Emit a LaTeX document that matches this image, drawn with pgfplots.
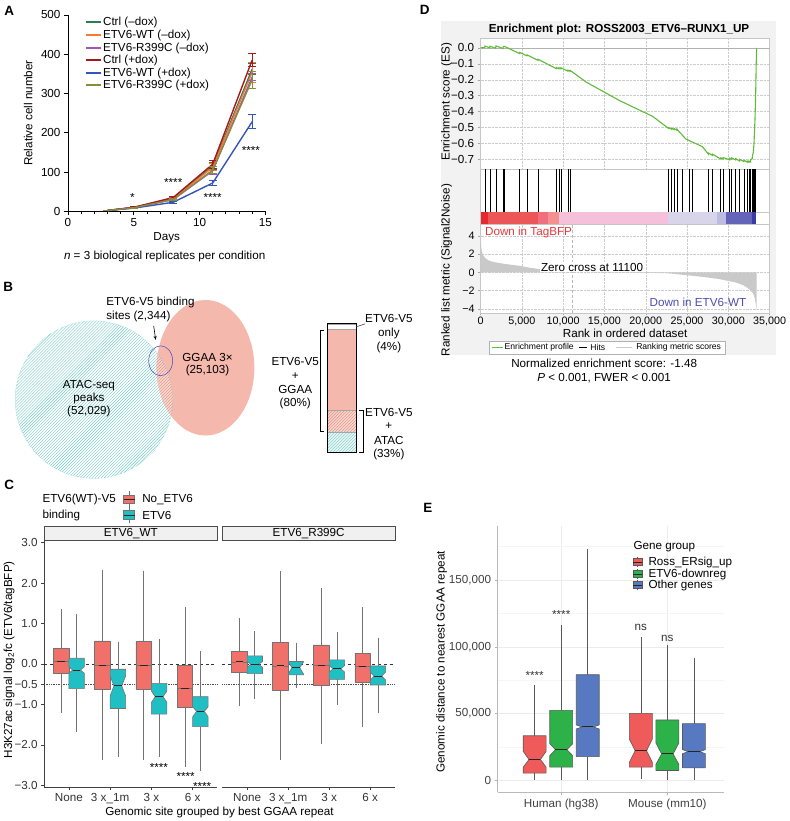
\documentclass[border=0pt]{standalone}
\usepackage{fontspec}
\setmainfont{Liberation Sans}
\usepackage{pgfplots}
\pgfplotsset{compat=1.18}
\usetikzlibrary{patterns,arrows.meta}

\definecolor{cgreen}{RGB}{42,125,79}
\definecolor{corange}{RGB}{244,123,53}
\definecolor{cpurple}{RGB}{160,87,181}
\definecolor{cdred}{RGB}{163,25,30}
\definecolor{cblue}{RGB}{51,85,184}
\definecolor{colive}{RGB}{138,139,60}
\definecolor{salmon}{RGB}{244,184,172}
\definecolor{salmonL}{RGB}{248,214,206}
\definecolor{salmonD}{RGB}{226,140,124}
\definecolor{tealH}{RGB}{120,205,200}
\definecolor{tealL}{RGB}{232,246,245}
\definecolor{cred}{RGB}{242,112,106}
\definecolor{cteal}{RGB}{31,191,196}
\definecolor{gsgreen}{RGB}{96,187,58}
\definecolor{bd1}{RGB}{229,42,47}
\definecolor{bd2}{RGB}{237,86,86}
\definecolor{bd3}{RGB}{240,110,126}
\definecolor{bd4}{RGB}{244,144,144}
\definecolor{bd5}{RGB}{245,192,218}
\definecolor{bd6}{RGB}{216,212,234}
\definecolor{bd7}{RGB}{189,188,224}
\definecolor{bd8}{RGB}{100,100,184}
\definecolor{bd9}{RGB}{59,59,165}
\definecolor{tagred}{RGB}{232,56,61}
\definecolor{wtblue}{RGB}{78,78,176}
\definecolor{ered}{RGB}{239,90,90}
\definecolor{egreen}{RGB}{45,178,74}
\definecolor{eblue}{RGB}{86,121,193}

\newcommand\fs{\fontsize{11.7}{13.5}\selectfont}
\newcommand\fsD{\fontsize{10.8}{12.5}\selectfont}
\newcommand\fsS{\fontsize{8.6}{10}\selectfont}
\newcommand\fsL{\fontsize{13.5}{15}\selectfont\bfseries}

\pgfplotsset{every axis/.append style={font=\fs, tick label style={font=\fs}, label style={font=\fs}, scaled ticks=false}}

\def\bhw{0.1875}
\def\bxl{black!55}
% notched box: #1 x, #2 low whisker, #3 q1, #4 median, #5 q3, #6 high whisker, #7 notch low, #8 notch high, #9 colour
\newcommand{\nbox}[9]{%
  \pgfmathsetmacro\bxA{#1-\bhw}%
  \pgfmathsetmacro\bxB{#1+\bhw}%
  \pgfmathsetmacro\bxC{#1-0.5*\bhw}%
  \pgfmathsetmacro\bxD{#1+0.5*\bhw}%
  \edef\bxtmp{%
   \noexpand\addplot[forget plot,draw=\bxl,line width=0.6pt] coordinates {(#1,#6) (#1,#5)};%
   \noexpand\addplot[forget plot,draw=\bxl,line width=0.6pt] coordinates {(#1,#2) (#1,#3)};%
   \noexpand\addplot[forget plot,draw=\bxl,fill=#9,line width=0.6pt,line join=round] coordinates {(\bxA,#3) (\bxA,#7) (\bxC,#4) (\bxA,#8) (\bxA,#5) (\bxB,#5) (\bxB,#8) (\bxD,#4) (\bxB,#7) (\bxB,#3)} --cycle;%
   \noexpand\addplot[forget plot,draw=black!85,line width=1pt] coordinates {(\bxC,#4) (\bxD,#4)};%
  }\bxtmp}

\begin{document}
\begin{tikzpicture}
\begin{scope}[x=1pt,y=-1pt]
\path[use as bounding box] (0,0) rectangle (787,821);
% panel D background
\fill[gray!10] (441,21) rectangle (777,356);
% ---- Venn (B)
\fill[pattern=north east lines, pattern color=tealH] (93,401) circle (79pt);
\fill[salmon] (205,369) ellipse (49pt and 68pt);
\begin{scope}
\clip (93,401) circle (79pt);
\fill[salmonL] (205,369) ellipse (49pt and 68pt);
\fill[pattern=north east lines, pattern color=salmonD] (205,369) ellipse (49pt and 68pt);
\end{scope}
\draw[tealH, densely dotted, line width=0.5pt] (93,401) circle (79pt);
\draw[blue!45!gray, line width=0.5pt] (160,362) ellipse (12pt and 15pt);
\end{scope}

% ================= A =================
\begin{axis}[at={(67pt,-212pt)},anchor=south west,scale only axis,width=198pt,height=197pt,
 xmin=0,xmax=15,ymin=0,ymax=500,clip=false,
 axis x line*=bottom, axis y line*=left, axis line style={line width=0.8pt},
 xtick={0,5,10,15}, xticklabels={0,5,10,15},
 minor xtick={1,2,3,4,6,7,8,9,11,12,13,14},
 ytick={0,100,200,300,400,500}, yticklabels={0,100,200,300,400,500},
 tick align=outside, major tick length=4pt, minor tick length=2.5pt,
 every tick/.style={black,line width=0.7pt},
 xlabel={Days}, ylabel={Relative cell number},
 xlabel style={at={(axis description cs:0.5,-0.137)},anchor=center},
 ylabel style={at={(axis description cs:-0.202,0.5)},anchor=center},
 legend style={at={(axis description cs:0.085,0.995)},anchor=north west,draw=none,fill=none,font=\fs,row sep=0.3pt,inner sep=0pt,nodes={inner sep=1.2pt}},
 legend cell align=left,
 legend image code/.code={\draw[#1,line width=2pt] (0pt,0pt) -- (15pt,0pt);},
 eb/.style={error bars/.cd,y dir=both,y explicit,error bar style={line width=1pt},error mark options={rotate=90,line width=1pt,mark size=4pt}}
]
\addplot[cgreen,line width=1.4pt,eb] coordinates {(3,2) +- (0,0) (5,10) +- (0,1) (8,33) +- (0,3) (11,115) +- (0,8) (14,362) +- (0,14)};
\addlegendentry{Ctrl (–dox)}
\addplot[corange,line width=1.4pt,eb] coordinates {(3,2) +- (0,0) (5,10) +- (0,1) (8,32) +- (0,3) (11,112) +- (0,9) (14,354) +- (0,26)};
\addlegendentry{ETV6-WT (–dox)}
\addplot[cpurple,line width=1.4pt,eb] coordinates {(3,2) +- (0,0) (5,9) +- (0,1) (8,30) +- (0,3) (11,103) +- (0,10) (14,342) +- (0,8)};
\addlegendentry{ETV6-R399C (–dox)}
\addplot[cdred,line width=1.4pt,eb] coordinates {(3,2) +- (0,0) (5,10) +- (0,1) (8,35) +- (0,3) (11,120) +- (0,10) (14,385) +- (0,16)};
\addlegendentry{Ctrl (+dox)}
\addplot[cblue,line width=1.4pt,eb] coordinates {(3,2) +- (0,0) (5,8) +- (0,1) (8,23) +- (0,2) (11,72) +- (0,6) (14,228) +- (0,18)};
\addlegendentry{ETV6-WT (+dox)}
\addplot[colive,line width=1.4pt,eb] coordinates {(3,2) +- (0,0) (5,9) +- (0,1) (8,30) +- (0,3) (11,105) +- (0,8) (14,335) +- (0,22)};
\addlegendentry{ETV6-R399C (+dox)}
\node[font=\fs] at (axis cs:4.9,36) {*};
\node[font=\fs] at (axis cs:8.0,74) {****};
\node[font=\fs] at (axis cs:11.0,34) {****};
\node[font=\fs] at (axis cs:13.9,155) {****};
\end{axis}

% ================= B stacked bar =================
\begin{axis}[at={(327pt,-454pt)},anchor=south west,scale only axis,width=29pt,height=129pt,
 xmin=0.5,xmax=1.5,ymin=0,ymax=100,ybar stacked,bar width=29pt,
 xtick=\empty,ytick=\empty,axis line style={line width=1pt},axis on top,clip=false]
\addplot[fill=tealL,draw=gray!70,postaction={pattern=north east lines,pattern color=tealH}] coordinates {(1,16)};
\addplot[fill=salmonL,draw=gray!70,postaction={pattern=north east lines,pattern color=salmonD}] coordinates {(1,17)};
\addplot[fill=salmon,draw=gray!70] coordinates {(1,63)};
\addplot[fill=white,draw=gray!70] coordinates {(1,4)};
\node[font=\fs] at (axis cs:1,47.5) {63\%};
\node[font=\fs] at (axis cs:1,24.5) {17\%};
\node[font=\fs] at (axis cs:1,8) {16\%};
\end{axis}

% ================= C left =================
\begin{axis}[at={(43pt,-790pt)},anchor=south west,scale only axis,width=174pt,height=248pt,
 xmin=0.4,xmax=4.6,ymin=-3.05,ymax=3.06,clip=false,
 axis x line*=bottom, axis y line*=left, axis line style={black!75,line width=0.6pt},
 tick align=outside, major tick length=3pt, every tick/.style={black!75,line width=0.6pt},
 xtick={1,2,3,4}, xticklabels={None,3 x\_1m,3 x,6 x},
 ytick={-3,-2,-1,-0.5,0,1,2,3}, yticklabels={−3.0,−2.0,−1.0,−0.5,0.0,1.0,2.0,3.0},
 tick label style={text=black!80}]
\addplot[forget plot,dashed,black!80,line width=0.7pt] coordinates {(0.4,0) (4.6,0)};
\addplot[forget plot,densely dotted,black!70,line width=0.7pt] coordinates {(0.4,-0.5) (4.6,-0.5)};
\nbox{0.8125}{-1.20}{-0.24}{0.06}{0.39}{1.35}{0.06}{0.06}{cred}
\nbox{1.1875}{-1.69}{-0.61}{-0.15}{0.14}{1.24}{-0.23}{-0.07}{cteal}
\nbox{1.8125}{-2.37}{-0.62}{-0.03}{0.57}{2.33}{-0.03}{-0.03}{cred}
\nbox{2.1875}{-2.29}{-1.10}{-0.54}{-0.13}{0.54}{-0.79}{-0.30}{cteal}
\nbox{2.8125}{-2.37}{-0.62}{-0.03}{0.55}{2.31}{-0.03}{-0.03}{cred}
\nbox{3.1875}{-2.29}{-1.24}{-0.81}{-0.48}{0.62}{-0.95}{-0.67}{cteal}
\nbox{3.8125}{-2.55}{-1.06}{-0.61}{-0.03}{1.42}{-0.61}{-0.61}{cred}
\nbox{4.1875}{-2.64}{-1.55}{-1.17}{-0.81}{0.32}{-1.31}{-1.06}{cteal}
\node[font=\fs] at (axis cs:3.18,-2.55) {****};
\node[font=\fs] at (axis cs:3.83,-2.77) {****};
\node[font=\fs] at (axis cs:4.23,-3.02) {****};
\end{axis}

% ================= C right =================
\begin{axis}[at={(222pt,-790pt)},anchor=south west,scale only axis,width=173pt,height=248pt,
 xmin=0.4,xmax=4.6,ymin=-3.05,ymax=3.06,clip=false,
 axis x line*=bottom, axis y line=none, axis line style={black!75,line width=0.6pt},
 tick align=outside, major tick length=3pt, every tick/.style={black!75,line width=0.6pt},
 xtick={1,2,3,4}, xticklabels={None,3 x\_1m,3 x,6 x}, ytick=\empty,
 tick label style={text=black!80}]
\addplot[forget plot,dashed,black!80,line width=0.7pt] coordinates {(0.4,0) (4.6,0)};
\addplot[forget plot,densely dotted,black!70,line width=0.7pt] coordinates {(0.4,-0.5) (4.6,-0.5)};
\nbox{0.8125}{-1.03}{-0.21}{0.05}{0.32}{1.14}{0.05}{0.05}{cred}
\nbox{1.1875}{-0.87}{-0.24}{-0.01}{0.20}{0.81}{-0.08}{0.06}{cteal}
\nbox{1.8125}{-2.37}{-0.64}{-0.05}{0.54}{2.29}{-0.05}{-0.05}{cred}
\nbox{2.1875}{-0.60}{-0.27}{-0.09}{0.06}{0.53}{-0.25}{0.05}{cteal}
\nbox{2.8125}{-1.98}{-0.52}{-0.04}{0.47}{1.87}{-0.04}{-0.04}{cred}
\nbox{3.1875}{-1.02}{-0.38}{-0.12}{0.10}{0.79}{-0.20}{-0.04}{cteal}
\nbox{3.8125}{-1.57}{-0.46}{-0.07}{0.27}{1.40}{-0.07}{-0.07}{cred}
\nbox{4.1875}{-1.22}{-0.52}{-0.30}{-0.05}{0.65}{-0.40}{-0.20}{cteal}
\end{axis}

% ================= D: ES =================
\begin{axis}[at={(481pt,-170pt)},anchor=south west,scale only axis,width=290pt,height=132pt,
 xmin=0,xmax=35000,ymin=-0.7625,ymax=0.0625,
 axis background/.style={fill=white}, axis line style={gray!45},
 grid=major, major grid style={densely dotted,gray!40},
 xtick={0,5000,10000,15000,20000,25000,30000,35000}, xmajorticks=false,
 ytick={-0.7,-0.6,-0.5,-0.4,-0.3,-0.2,-0.1,0}, yticklabels={−0.7,−0.6,−0.5,−0.4,−0.3,−0.2,−0.1,0.0},
 ytick pos=left, tick align=outside, major tick length=3pt, every tick/.style={gray!70}]
\addplot[forget plot,gray!60,line width=0.6pt] coordinates {(0,0) (35000,0)};
\addplot[gsgreen,line width=1.1pt] coordinates {
(0,0) (500,0.002) (523,0.011) (1110,0.0) (1126,0.010) (1835,-0.002) (1850,0.012) (2720,-0.004) (2736,0.006) (2856,0.010)
(4730,-0.036) (4747,-0.029) (5615,-0.05) (5632,-0.044) (6945,-0.078) (6960,-0.072)
(9160,-0.13) (9172,-0.124) (9480,-0.131) (9494,-0.125) (9725,-0.131) (9736,-0.125) (10570,-0.146) (10580,-0.14) (10850,-0.147) (10860,-0.142)
(12800,-0.215) (16800,-0.33) (20840,-0.43) (22760,-0.505) (22770,-0.5) (23120,-0.51) (23130,-0.504) (23440,-0.513) (23450,-0.507) (23770,-0.516) (23780,-0.51)
(24860,-0.572) (26870,-0.62) (27590,-0.667) (27600,-0.66) (28070,-0.674) (28080,-0.667) (29080,-0.697) (29090,-0.69) (29360,-0.697) (29370,-0.688)
(30160,-0.703) (30170,-0.693) (30360,-0.698) (30370,-0.69) (30890,-0.703) (30900,-0.695) (31370,-0.71) (31380,-0.70) (31890,-0.713) (31900,-0.705)
(32290,-0.717) (32300,-0.71) (32500,-0.718) (32510,-0.71) (32700,-0.716) (32710,-0.70) (32900,-0.695) (32910,-0.68) (33030,-0.655) (33110,-0.6) (33230,-0.45) (33310,-0.3) (33380,-0.1) (33430,0.0)};
\end{axis}

% ================= D: hits =================
\begin{axis}[at={(481pt,-213pt)},anchor=south west,scale only axis,width=290pt,height=43pt,
 xmin=0,xmax=35000,ymin=0,ymax=1,xtick=\empty,ytick=\empty,
 axis background/.style={fill=white}, axis line style={gray!45}]
\addplot[ycomb,black,line width=0.7pt,mark=none] coordinates {
(523,1) (1126,1) (1850,1) (2736,1) (2856,1) (4747,1) (5632,1) (6960,1) (9172,1) (9494,1) (9736,1) (10580,1) (10860,1)
(22770,1) (23130,1) (23450,1) (23780,1) (24460,1) (25270,1) (25670,1) (27600,1) (28080,1) (29090,1) (29370,1) (30170,1) (30370,1)
(30900,1) (31380,1) (31900,1) (32300,1) (32510,1) (32710,1) (32910,1) (33030,1) (33110,1) (33230,1) (33310,1)};
\end{axis}

% ================= D: colour band =================
\begin{axis}[at={(481pt,-225pt)},anchor=south west,scale only axis,width=290pt,height=12pt,
 xmin=0,xmax=35000,ymin=0,ymax=1,xtick=\empty,ytick=\empty,
 axis background/.style={fill=white}, axis line style={gray!45}]
\addplot[fill=bd1,draw=none] coordinates {(0,0) (0,1) (925,1) (925,0)} --cycle;
\addplot[fill=bd2,draw=none] coordinates {(925,0) (925,1) (6960,1) (6960,0)} --cycle;
\addplot[fill=bd3,draw=none] coordinates {(6960,0) (6960,1) (8167,1) (8167,0)} --cycle;
\addplot[fill=bd4,draw=none] coordinates {(8167,0) (8167,1) (9494,1) (9494,0)} --cycle;
\addplot[fill=bd5,draw=none] coordinates {(9494,0) (9494,1) (22650,1) (22650,0)} --cycle;
\addplot[fill=bd6,draw=none] coordinates {(22650,0) (22650,1) (28680,1) (28680,0)} --cycle;
\addplot[fill=bd7,draw=none] coordinates {(28680,0) (28680,1) (29690,1) (29690,0)} --cycle;
\addplot[fill=bd8,draw=none] coordinates {(29690,0) (29690,1) (32910,1) (32910,0)} --cycle;
\addplot[fill=bd9,draw=none] coordinates {(32910,0) (32910,1) (33390,1) (33390,0)} --cycle;
\end{axis}

% ================= D: ranked metric =================
\begin{axis}[at={(481pt,-314pt)},anchor=south west,scale only axis,width=290pt,height=89pt,
 xmin=0,xmax=35000,ymin=-4.44,ymax=5.27,
 axis background/.style={fill=white}, axis line style={gray!45},
 grid=major, major grid style={densely dotted,gray!40},
 xtick={0,5000,10000,15000,20000,25000,30000,35000},
 xticklabels={0,{5,000},{10,000},{15,000},{20,000},{25,000},{30,000},{35,000}},
 ytick={-4,-2,0,2,4}, yticklabels={−4,−2,0,2,4},
 xtick pos=bottom, ytick pos=left, tick align=outside, major tick length=2.5pt, every tick/.style={gray!70},
 tick label style={font=\fsD}, xticklabel style={yshift=1.5pt},
 xlabel={Rank in ordered dataset},
 xlabel style={at={(axis description cs:0.5,-0.235)},anchor=center}]
\addplot[fill=gray!42,draw=none] coordinates {
(0,0) (0,4.5) (60,3.0) (150,2.3) (300,1.9) (523,1.6) (1000,1.3) (1500,1.15) (2736,0.95) (4000,0.8) (4747,0.72) (6000,0.5) (7000,0.38) (8000,0.3) (9000,0.21) (10000,0.12) (11100,0)
(15000,-0.02) (20000,-0.05) (22450,-0.08) (24860,-0.3) (27000,-0.5) (28880,-0.73) (30900,-1.1) (31800,-1.4) (32500,-1.8) (33000,-2.3) (33200,-2.8) (33330,-3.5) (33400,-4.0) (33430,-4.2) (33430,0)} --cycle;
\addplot[densely dashed,gray!55,line width=0.6pt] coordinates {(11100,-4.44) (11100,5.27)};
\node[fill=white,inner sep=1pt,font=\fs] at (axis cs:13500,0.55) {Zero cross at 11100};
\end{axis}

% ================= E =================
\def\bhw{0.108}
\def\bxl{black!65}
\begin{axis}[at={(498pt,-795pt)},anchor=south west,scale only axis,width=227pt,height=267pt,
 xmin=0.4,xmax=2.531,ymin=-8955,ymax=190300,clip=false,
 axis x line*=bottom, axis y line*=left, axis line style={gray!55,line width=0.6pt},
 grid=both, major grid style={gray!15,line width=0.6pt}, minor grid style={gray!8,line width=0.4pt},
 xtick={1,2}, xticklabels={Human (hg38),Mouse (mm10)},
 ytick={0,50000,100000,150000}, yticklabels={0,{50,000},{100,000},{150,000}},
 minor ytick={25000,75000,125000,175000}, minor tick length=0pt,
 tick align=outside, major tick length=3pt, every tick/.style={gray!60,line width=0.6pt},
 tick label style={text=black!75},
 ylabel={Genomic distance to nearest GGAA repeat},
 ylabel style={at={(axis description cs:-0.247,0.49)},anchor=center}]
\nbox{0.75}{500}{5400}{15600}{33400}{71700}{9900}{21700}{ered}
\nbox{1.0}{0}{9900}{23000}{52400}{116600}{18500}{27500}{egreen}
\nbox{1.25}{0}{17800}{40000}{79100}{173100}{38500}{41500}{eblue}
\nbox{1.75}{1200}{9900}{22200}{50200}{107500}{13600}{30900}{ered}
\nbox{2.0}{0}{7400}{19800}{45200}{101300}{12000}{28000}{egreen}
\nbox{2.25}{0}{9400}{21500}{42500}{91900}{20000}{23000}{eblue}
\node[font=\fs,text=black!80] at (axis cs:0.75,78300) {****};
\node[font=\fs,text=black!80] at (axis cs:1.0,124300) {****};
\node[font=\fs,text=black!80] at (axis cs:1.75,114200) {ns};
\node[font=\fs,text=black!80] at (axis cs:2.0,106200) {ns};
\end{axis}

% ================= texts =================
\begin{scope}[x=1pt,y=-1pt]
% panel letters
\node[font=\fsL] at (8,11) {A};
\node[font=\fsL] at (7,288) {B};
\node[font=\fsL] at (8,487) {C};
\node[font=\fsL] at (425,10) {D};
\node[font=\fsL] at (428,510) {E};
% A
\node[font=\fs] at (164,257) {\textit{n} = 3 biological replicates per condition};
% B Venn texts
\node[font=\fs,anchor=west] at (102,304) {ETV6-V5 binding};
\node[font=\fs,anchor=west] at (102,318) {sites (2,344)};
\draw[-{Stealth[length=4pt]},line width=0.6pt] (153,327) -- (155,341);
\node[font=\fs] at (207,359) {GGAA 3×};
\node[font=\fs] at (207,372) {(25,103)};
\node[font=\fs] at (88,387) {ATAC-seq};
\node[font=\fs] at (88,400) {peaks};
\node[font=\fs] at (88,413) {(52,029)};
% B bar labels
\draw[line width=0.7pt] (324,331) -- (320,331) -- (320,433) -- (324,433);
\draw[line width=0.7pt] (359,412) -- (363,412) -- (363,454) -- (359,454);
\draw[line width=0.6pt,gray!60!black] (356,328) -- (365,325);
\node[font=\fs] at (295,363) {ETV6-V5};
\node[font=\fs] at (295,377) {+};
\node[font=\fs] at (295,391) {GGAA};
\node[font=\fs] at (295,405) {(80\%)};
\node[font=\fs] at (389,320) {ETV6-V5};
\node[font=\fs] at (389,335) {only};
\node[font=\fs] at (389,349) {(4\%)};
\node[font=\fs] at (389,414) {ETV6-V5};
\node[font=\fs] at (389,428) {+};
\node[font=\fs] at (389,442) {ATAC};
\node[font=\fs] at (389,456) {(33\%)};
% C legend
\node[font=\fs,anchor=west] at (38,501) {ETV6(WT)-V5};
\node[font=\fs,anchor=west] at (38,517) {binding};
\draw[black!55,line width=0.6pt] (128.5,493) -- (128.5,509);
\filldraw[fill=cred,draw=black!55,line width=0.6pt] (123,496.5) rectangle (134,505.5);
\draw[black!85,line width=0.8pt] (123,501) -- (134,501);
\node[font=\fs,anchor=west] at (138,501) {No\_ETV6};
\draw[black!55,line width=0.6pt] (128.5,509) -- (128.5,525);
\filldraw[fill=cteal,draw=black!55,line width=0.6pt] (123,512.5) rectangle (134,521.5);
\draw[black!85,line width=0.8pt] (123,517) -- (134,517);
\node[font=\fs,anchor=west] at (138,517) {ETV6};
% C strips
\filldraw[fill=gray!12,draw=black!70,line width=0.6pt] (43,528) rectangle (217,542);
\filldraw[fill=gray!12,draw=black!70,line width=0.6pt] (222,528) rectangle (395,542);
\node[font=\fs] at (130,535) {ETV6\_WT};
\node[font=\fs] at (308.5,535) {ETV6\_R399C};
\node[font=\fs] at (219,815) {Genomic site grouped by best GGAA repeat};
\node[font=\fs,rotate=90] at (8,662) {H3K27ac signal log\textsubscript{2}fc (ETV6/tagBFP)};
% D texts
\node[font=\fs\bfseries] at (620,30) {Enrichment plot: ROSS2003\_ETV6–RUNX1\_UP};
\node[font=\fs,rotate=90] at (447,102) {Enrichment score (ES)};
\node[font=\fs,rotate=90] at (447,271) {Ranked list metric (Signal2Noise)};
\node[font=\fs,anchor=west,text=tagred] at (482,233) {Down in TagBFP};
\node[font=\fs,anchor=east,text=wtblue] at (751,303) {Down in ETV6-WT};
\filldraw[fill=white,draw=gray!60,line width=0.5pt] (490,342) rectangle (726,355);
\draw[gsgreen,line width=1pt] (492,348.5) -- (503,348.5);
\node[font=\fsS,anchor=west,inner sep=1pt] at (504,348.5) {Enrichment profile};
\draw[black,line width=0.8pt] (580,348.5) -- (588,348.5);
\node[font=\fsS,anchor=west,inner sep=1pt] at (590,348.5) {Hits};
\draw[gray!40,line width=1pt] (617,348.5) -- (633,348.5);
\node[font=\fsS,anchor=west,inner sep=1pt] at (636,348.5) {Ranking metric scores};
\node[font=\fs] at (605,365) {Normalized enrichment score: -1.48};
\node[font=\fs] at (605,379) {\textit{P} < 0.001, FWER < 0.001};
% E legend
\node[font=\fs,anchor=west] at (631,548) {Gene group};
\foreach \yy/\cc/\tt in {564/ered/Ross\_ERsig\_up, 576/egreen/ETV6-downreg, 587/eblue/Other genes}{
  \draw[black!65,line width=0.5pt] (638.5,\yy-5) -- (638.5,\yy+5);
  \filldraw[fill=\cc,draw=black!65,line width=0.5pt] (634,\yy-3.5) rectangle (643,\yy+3.5);
  \draw[black!85,line width=0.7pt] (634,\yy) -- (643,\yy);
  \node[font=\fs,anchor=west] at (646,\yy) {\tt};
}
\end{scope}
\end{tikzpicture}
\end{document}
